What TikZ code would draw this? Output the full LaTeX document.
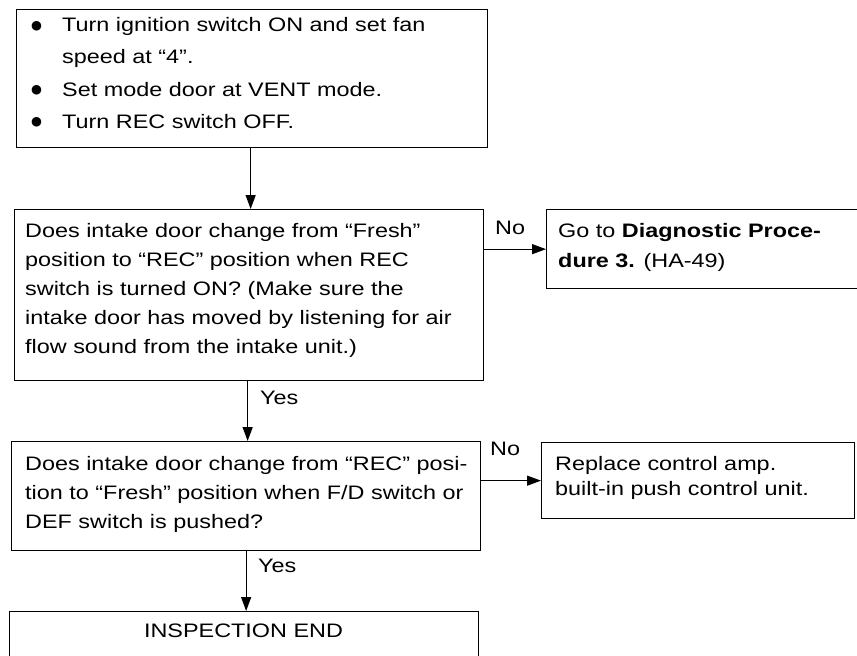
\documentclass[tikz,border=0pt]{standalone}
\usepackage{fontspec}
\setmainfont{Liberation Sans}[FakeStretch=1.2]
\newfontfamily\bulfont{DejaVu Sans}
\usetikzlibrary{arrows.meta}
\newcommand\flowtext[2]{\parbox[t]{560pt}{\raggedright\fontsize{19.5}{#1}\selectfont #2}}
\newcommand\bul{\makebox[31pt][l]{\raisebox{2.5pt}{\bulfont\fontsize{12.5}{12.5}\selectfont ●}}}
\begin{document}
\begin{tikzpicture}[x=1pt,y=-1pt,
  box/.style={draw, line width=1.3pt, inner sep=0pt, anchor=north west},
  txt/.style={inner sep=0pt, anchor=base west},
  lab/.style={inner sep=0pt, anchor=base west, font=\fontsize{19.5}{24}\selectfont},
  arr/.style={line width=1.3pt, -{Triangle[length=14pt,width=10pt]}}]
\useasboundingbox (0,0) rectangle (857,656);
% boxes
\node[box, minimum width=471pt, minimum height=138pt] (b1) at (16,9) {};
\node[box, minimum width=469pt, minimum height=171pt] (b2) at (14,209) {};
\node[box, minimum width=330pt, minimum height=79pt] (g1) at (546,209) {};
\node[box, minimum width=469pt, minimum height=109pt] (b3) at (11,441) {};
\node[box, minimum width=313pt, minimum height=76pt] (r2) at (541,442) {};
\node[box, minimum width=469pt, minimum height=80pt] (b4) at (9,611) {};
% texts
\node[txt] (t1) at (31,31.7) {\flowtext{32.2}{\bul Turn ignition switch ON and set fan\\
\hspace*{31pt}speed at “4”.\\
\bul Set mode door at VENT mode.\\
\bul Turn REC switch OFF.}};
\node[txt] (t2) at (25,237) {\flowtext{29}{Does intake door change from “Fresh”\\
position to “REC” position when REC\\
switch is turned ON? (Make sure the\\
intake door has moved by listening for air\\
flow sound from the intake unit.)}};
\node[txt] (tg) at (558,237) {\flowtext{30}{Go to \textbf{Diagnostic Proce-}\\
\textbf{dure 3.} (HA-49)}};
\node[txt] (t3) at (25,470) {\flowtext{29}{Does intake door change from “REC” posi-\\
tion to “Fresh” position when F/D switch or\\
DEF switch is pushed?}};
\node[txt] (tr) at (555,470) {\flowtext{25}{Replace control amp.\\
built-in push control unit.}};
\node[lab, anchor=base] (t4) at (243.5,637) {INSPECTION END};
% labels
\node[lab] (no1) at (495,234) {No};
\node[lab] (yes1) at (260,404) {Yes};
\node[lab] (no2) at (490,455) {No};
\node[lab] (yes2) at (258,572) {Yes};
% connectors
\draw[arr] ([xshift=-1.5pt]b1.south) -- ([xshift=-1.5pt]b1.south |- b2.north);
\draw[arr] ([xshift=-1.5pt]b2.south) -- ([xshift=-1.5pt]b2.south |- b3.north);
\draw[arr] (b3.south) -- (b3.south |- b4.north);
\draw[arr] (g1.west -| b2.east) -- (g1.west);
\draw[arr] (r2.west -| b3.east) -- (r2.west);
\end{tikzpicture}
\end{document}
